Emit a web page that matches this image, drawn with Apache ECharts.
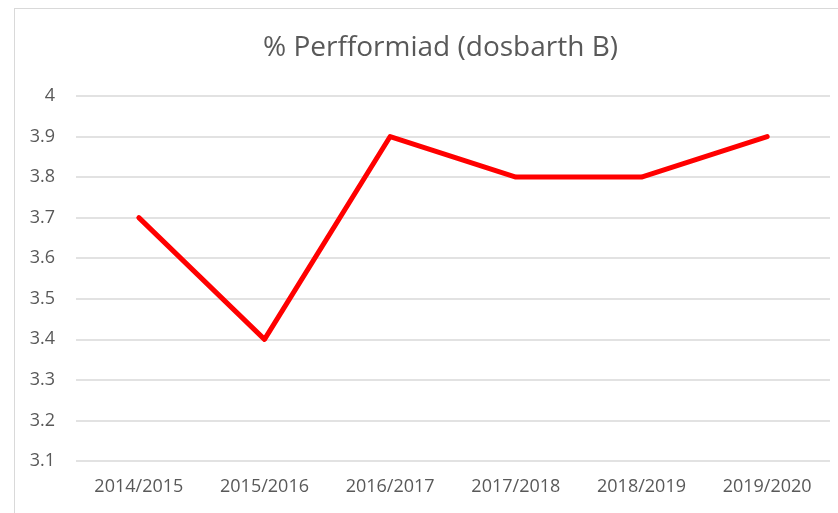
<!DOCTYPE html>
<html>
<head>
<meta charset="utf-8">
<script src="https://cdn.jsdelivr.net/npm/echarts@6/dist/echarts.min.js"></script>
<style>
html,body{margin:0;padding:0;background:#fff;overflow:hidden;}
#frame{position:absolute;left:14px;top:8px;width:900px;height:600px;border:1px solid #d9d9d9;box-sizing:border-box;}
#chart{position:absolute;left:0;top:0;width:838px;height:513px;}
</style>
</head>
<body>
<div id="frame"></div>
<div id="chart"></div>
<script>
const titleText = '% Perfformiad (dosbarth B)';
const categories = ['2014/2015','2015/2016','2016/2017','2017/2018','2018/2019','2019/2020'];
const values = [3.7, 3.4, 3.9, 3.8, 3.8, 3.9];
const yMin = 3.1, yMax = 4, yStep = 0.1;

const chart = echarts.init(document.getElementById('chart'), null, {renderer:'canvas'});
chart.setOption({
  animation:false,
  backgroundColor:'transparent',
  title:{
    text:titleText, left:258, top:29,
    textStyle:{fontFamily:'Open Sans', fontSize:28, fontWeight:'normal', color:'#595959'}
  },
  grid:{left:76, right:8, top:96, bottom:52, containLabel:false},
  xAxis:{
    type:'category', data:categories, boundaryGap:true,
    axisLine:{show:false}, axisTick:{show:false},
    axisLabel:{fontFamily:'Open Sans', fontSize:18, color:'#595959', margin:17}
  },
  yAxis:{
    type:'value', min:yMin, max:yMax, interval:yStep,
    axisLine:{show:false}, axisTick:{show:false},
    splitLine:{lineStyle:{color:'#d9d9d9', width:1.5}},
    axisLabel:{fontFamily:'Open Sans', fontSize:18, color:'#595959', margin:21,
      formatter:v=>String(Math.round(v*10)/10)}
  },
  series:[{
    type:'line', data:values, symbol:'none',
    lineStyle:{color:'#ff0000', width:5, cap:'round', join:'round'}
  }]
});
</script>
</body>
</html>
